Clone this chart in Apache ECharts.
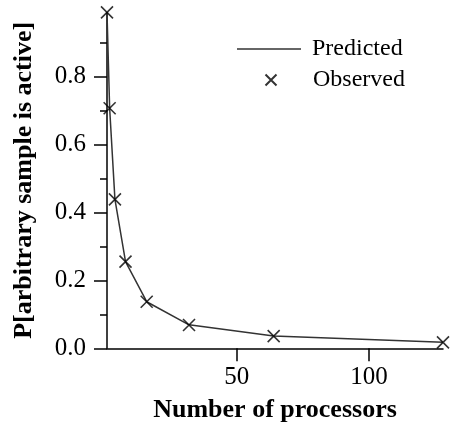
<!DOCTYPE html>
<html>
<head>
<meta charset="utf-8">
<script src="https://cdn.jsdelivr.net/npm/echarts@6/dist/echarts.min.js"></script>
<style>html,body{margin:0;padding:0;background:#fff}#c{width:451px;height:432px}</style>
</head>
<body>
<div id="c"></div>
<script>
const processors = [1, 2, 4, 8, 16, 32, 64, 128];
const predicted = [0.988, 0.706, 0.438, 0.255, 0.137, 0.069, 0.036, 0.0176];
const observed = [0.988, 0.706, 0.438, 0.255, 0.137, 0.0685, 0.036, 0.0176];
const xTicks = [50, 100];
const yTicks = [0, 0.2, 0.4, 0.6, 0.8];
const yMinorTicks = [0.1, 0.3, 0.5, 0.7, 0.9];

const FONT = '"Liberation Serif", "Times New Roman", serif';
const X_PATH = 'path://M0,0L10,10M10,0L0,10';

const chart = echarts.init(document.getElementById('c'), null, {renderer: 'canvas'});
chart.setOption({
  animation: false,
  backgroundColor: '#fff',
  grid: {left: 107, right: 8, top: 12.4, bottom: 83.7, containLabel: false},
  legend: [
    {
      data: [{name: 'Predicted', icon: 'rect'}],
      left: 237, top: 37, padding: 0,
      itemWidth: 64, itemHeight: 1.5,
      itemStyle: {color: '#333', borderWidth: 0},
      textStyle: {fontFamily: FONT, fontSize: 24, color: '#000', padding: [0, 0, 0, 6]},
      selectedMode: false
    },
    {
      data: [{name: 'Observed'}],
      left: 264.5, top: 68, padding: 0,
      itemWidth: 11, itemHeight: 11,
      textStyle: {fontFamily: FONT, fontSize: 24, color: '#000', padding: [0, 0, 0, 31.5]},
      selectedMode: false
    }
  ],
  xAxis: {
    type: 'value', min: 1, max: 128,
    name: 'Number of processors', nameLocation: 'middle', nameGap: 49,
    nameTextStyle: {fontFamily: FONT, fontSize: 26, fontWeight: 'bold', color: '#000'},
    axisLine: {show: true, onZero: false, lineStyle: {color: '#000', width: 1.5}},
    axisTick: {show: true, inside: false, length: 13, customValues: xTicks, lineStyle: {color: '#000', width: 1.5}},
    axisLabel: {customValues: xTicks, fontFamily: FONT, fontSize: 25, color: '#000', margin: 17},
    splitLine: {show: false}
  },
  yAxis: [
    {
      type: 'value', min: 0, max: 0.988,
      name: 'P[arbitrary sample is active]', nameLocation: 'middle', nameGap: 70,
      nameTextStyle: {fontFamily: FONT, fontSize: 26, fontWeight: 'bold', color: '#000'},
      axisLine: {show: true, lineStyle: {color: '#000', width: 1.5}},
      axisTick: {show: true, inside: false, length: 13, customValues: yTicks, lineStyle: {color: '#000', width: 1.5}},
      axisLabel: {customValues: yTicks, fontFamily: FONT, fontSize: 25, color: '#000', margin: 21,
        formatter: v => v.toFixed(1)},
      splitLine: {show: false}
    },
    {
      type: 'value', min: 0, max: 0.988, position: 'left', offset: 0,
      axisLine: {show: false},
      axisTick: {show: true, inside: false, length: 7, customValues: yMinorTicks, lineStyle: {color: '#000', width: 1.5}},
      axisLabel: {show: false},
      splitLine: {show: false}
    }
  ],
  series: [
    {
      name: 'Predicted', type: 'line',
      data: processors.map((x, i) => [x, predicted[i]]),
      symbol: 'none', showSymbol: false,
      lineStyle: {color: '#333', width: 1.5},
      itemStyle: {color: '#333'}
    },
    {
      name: 'Observed', type: 'scatter',
      data: processors.map((x, i) => [x, observed[i]]),
      symbol: X_PATH, symbolSize: 12,
      itemStyle: {color: 'rgba(0,0,0,0)', borderColor: '#000', borderWidth: 1.6},
      z: 3
    }
  ]
});
</script>
</body>
</html>
